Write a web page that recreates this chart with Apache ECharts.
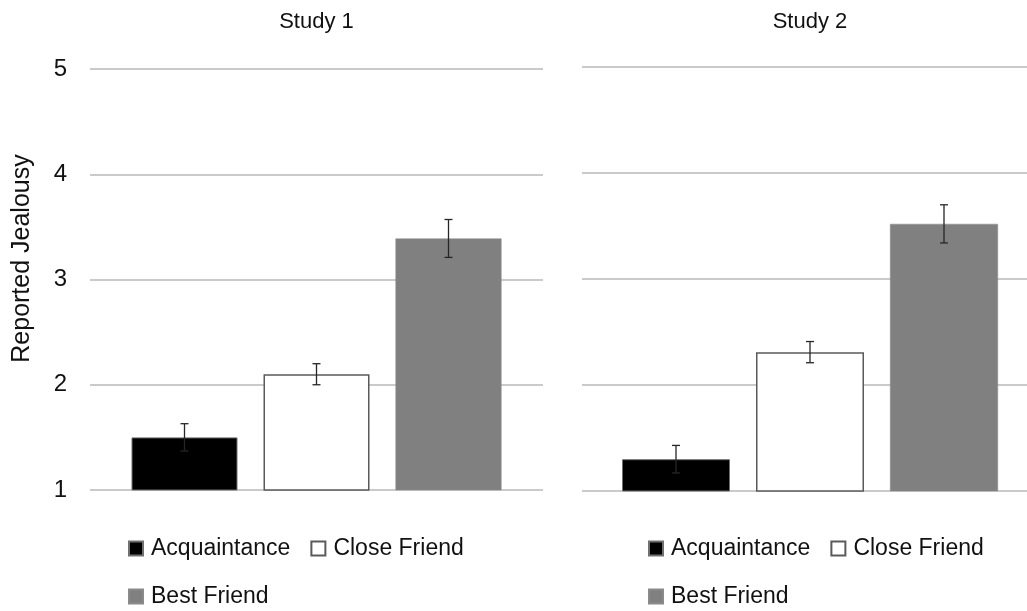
<!DOCTYPE html>
<html><head><meta charset="utf-8">
<script src="https://cdn.jsdelivr.net/npm/echarts@6/dist/echarts.min.js"></script>
<style>html,body{margin:0;padding:0;background:#fff}#c{width:1027px;height:611px}</style>
</head><body><div id="c"></div>
<script>
const studies = ['Study 1', 'Study 2'];
const seriesNames = ['Acquaintance', 'Close Friend', 'Best Friend'];
const acquaintance = [1.50, 1.30];
const closeFriend = [2.10, 2.31];
const bestFriend = [3.39, 3.52];
const acquaintanceErr = [0.13, 0.13];
const closeFriendErr = [0.10, 0.10];
const bestFriendErr = [0.18, 0.18];
const yTicks = [1, 2, 3, 4, 5];

const BAR_W = [106, 108], BAR_GAP = [26, 26];
const FONT = 'Liberation Sans, Arial, sans-serif';
const values = [acquaintance, closeFriend, bestFriend];
const errs = [acquaintanceErr, closeFriendErr, bestFriendErr];
const styles = [
  {color: '#000000', borderColor: '#707070', borderWidth: 1},
  {color: '#ffffff', borderColor: '#5a5a5a', borderWidth: 1.5},
  {color: '#808080', borderColor: '#8a8a8a', borderWidth: 0.5}
];

const grids = [
  {left: 90, width: 453, top: 69, bottom: 611 - 490, outerBoundsMode: 'none'},
  {left: 582, width: 456, top: 67, bottom: 611 - 491, outerBoundsMode: 'none'}
];

const xAxis = studies.map((s, i) => ({
  type: 'category', gridIndex: i, data: [s], position: 'top',
  axisLine: {show: false}, axisTick: {show: false},
  axisLabel: {show: true, margin: i === 0 ? 36 : 34, fontSize: 22, color: '#111', fontFamily: FONT}
}));
const yAxis = studies.map((s, i) => ({
  type: 'value', gridIndex: i, min: yTicks[0], max: yTicks[yTicks.length - 1], interval: 1,
  name: i === 0 ? 'Reported Jealousy' : '', nameLocation: 'middle', nameGap: 55,
  nameTextStyle: {fontSize: 25, color: '#111', fontFamily: FONT, padding: [0, 0, 0, 42]},
  axisLine: {show: false}, axisTick: {show: false},
  axisLabel: {show: i === 0, fontSize: 24, color: '#111', margin: 23, fontFamily: FONT},
  splitLine: {show: true, lineStyle: {color: '#b9b9b9', width: 1.5}}
}));

const series = [];
studies.forEach((s, gi) => {
  seriesNames.forEach((n, si) => {
    series.push({
      type: 'bar', name: n, xAxisIndex: gi, yAxisIndex: gi,
      barWidth: BAR_W[gi], barGap: (BAR_GAP[gi] / BAR_W[gi] * 100) + '%',
      itemStyle: styles[si], clip: true,
      data: [values[si][gi]]
    });
  });
  series.push({
    type: 'custom', xAxisIndex: gi, yAxisIndex: gi, silent: true, z: 10,
    data: seriesNames.map((n, si) => [0, values[si][gi] - errs[si][gi], values[si][gi] + errs[si][gi], si]),
    renderItem: function (params, api) {
      const off = (api.value(3) - 1) * (BAR_W[gi] + BAR_GAP[gi]);
      const lo = api.coord([api.value(0), api.value(1)]);
      const hi = api.coord([api.value(0), api.value(2)]);
      const x = lo[0] + off, hw = 4;
      const st = {stroke: '#262626', lineWidth: 1.3};
      return {type: 'group', children: [
        {type: 'line', shape: {x1: x, y1: lo[1], x2: x, y2: hi[1]}, style: st},
        {type: 'line', shape: {x1: x - hw, y1: lo[1], x2: x + hw, y2: lo[1]}, style: st},
        {type: 'line', shape: {x1: x - hw, y1: hi[1], x2: x + hw, y2: hi[1]}, style: st}
      ]};
    }
  });
});

const legendBase = {icon: 'rect', itemWidth: 14, itemHeight: 14, itemGap: 20, orient: 'horizontal',
  textStyle: {fontSize: 23, color: '#111', fontFamily: FONT, padding: [0, 0, 0, 3]}, selectedMode: false};
const legend = [
  Object.assign({}, legendBase, {left: 123, top: 532, data: seriesNames.slice(0, 2)}),
  Object.assign({}, legendBase, {left: 123, top: 580, data: seriesNames.slice(2)}),
  Object.assign({}, legendBase, {left: 643, top: 532, data: seriesNames.slice(0, 2)}),
  Object.assign({}, legendBase, {left: 643, top: 580, data: seriesNames.slice(2)})
];

const chart = echarts.init(document.getElementById('c'), null, {renderer: 'canvas'});
chart.setOption({
  animation: false, backgroundColor: '#fff',
  grid: grids, xAxis: xAxis, yAxis: yAxis, legend: legend, series: series
});
</script></body></html>
